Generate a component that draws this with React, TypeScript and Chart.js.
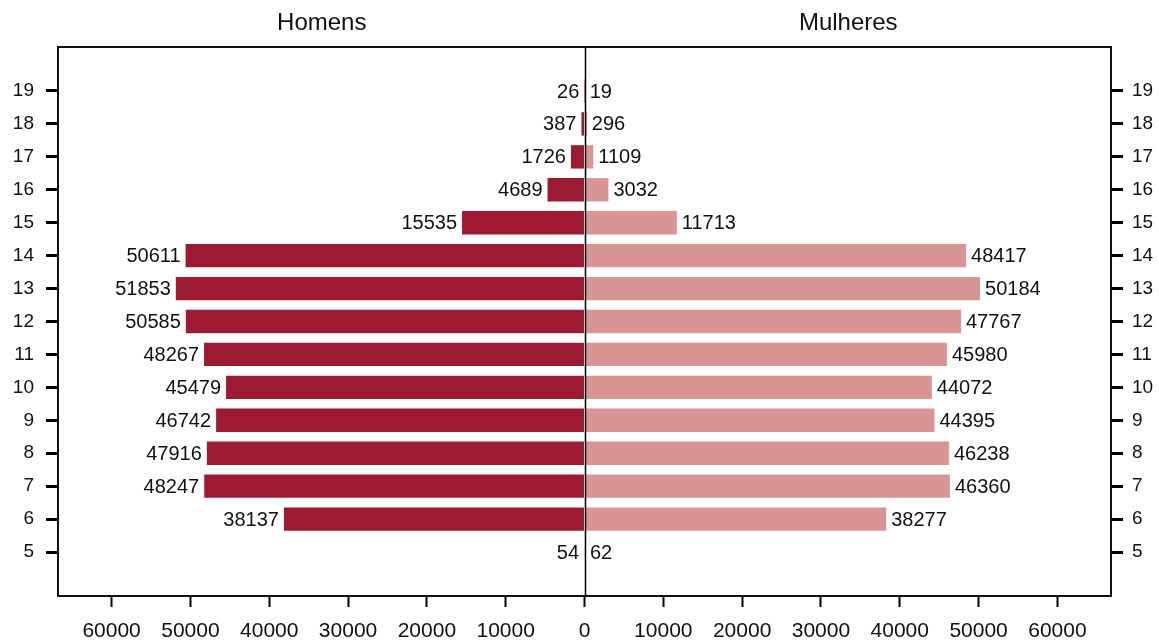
import React, { useEffect, useRef } from "react";
import { Chart, registerables } from "chart.js";

Chart.register(...registerables);

const ages = [19, 18, 17, 16, 15, 14, 13, 12, 11, 10, 9, 8, 7, 6, 5];
const homens = [26, 387, 1726, 4689, 15535, 50611, 51853, 50585, 48267, 45479, 46742, 47916, 48247, 38137, 54];
const mulheres = [19, 296, 1109, 3032, 11713, 48417, 50184, 47767, 45980, 44072, 44395, 46238, 46360, 38277, 62];
const xTicks = [-60000, -50000, -40000, -30000, -20000, -10000, 0, 10000, 20000, 30000, 40000, 50000, 60000];
const sideTitles = ["Homens", "Mulheres"];

const FONT = "'Liberation Sans', Arial, sans-serif";

export default function App() {
  const ref = useRef<HTMLCanvasElement | null>(null);

  useEffect(() => {
    if (!ref.current) return;
    const overlay = {
      id: "overlay",
      afterDatasetsDraw(chart: any) {
        const ctx = chart.ctx;
        const a = chart.chartArea;
        const xs = chart.scales.x;
        ctx.save();
        // value labels
        ctx.font = `20px ${FONT}`;
        ctx.fillStyle = "#111";
        ctx.textBaseline = "middle";
        const sets = [homens, mulheres];
        chart.data.datasets.forEach((_d: any, di: number) => {
          const meta = chart.getDatasetMeta(di);
          meta.data.forEach((el: any, i: number) => {
            const v = sets[di][i];
            if (di === 0) {
              ctx.textAlign = "right";
              ctx.fillText(String(v), el.x - 5, el.y + 1);
            } else {
              ctx.textAlign = "left";
              ctx.fillText(String(v), el.x + 5, el.y + 1);
            }
          });
        });
        // center line
        const x0 = Math.round(xs.getPixelForValue(0)) + 0.5;
        ctx.strokeStyle = "#000";
        ctx.lineWidth = 1.5;
        ctx.beginPath();
        ctx.moveTo(x0, a.top);
        ctx.lineTo(x0, a.bottom);
        ctx.stroke();
        // box
        ctx.lineWidth = 2;
        ctx.strokeStyle = "#111";
        ctx.strokeRect(a.left, a.top, a.right - a.left, a.bottom - a.top);
        // side titles
        ctx.font = `24px ${FONT}`;
        ctx.fillStyle = "#111";
        ctx.textAlign = "center";
        ctx.fillText(sideTitles[0], (a.left + x0) / 2, 23);
        ctx.fillText(sideTitles[1], (x0 + a.right) / 2, 23);
        ctx.restore();
      },
    };

    const yAxis = (pos: string, width: number, pad: number) => ({
      type: "linear",
      position: pos,
      min: 3.664,
      max: 20.336,
      offset: false,
      afterFit: (s: any) => {
        s.width = width;
      },
      afterBuildTicks: (s: any) => {
        s.ticks = ages.map((v) => ({ value: v }));
      },
      border: { display: false },
      grid: {
        offset: false,
        drawOnChartArea: false,
        drawTicks: true,
        tickLength: 12,
        tickWidth: 3,
        tickColor: "#000",
      },
      ticks: {
        padding: pad,
        color: "#111",
        font: { family: FONT, size: 19 },
        autoSkip: false,
        callback: (v: any) => String(v),
      },
    });

    const chart = new Chart(ref.current, {
      type: "bar",
      data: {
        datasets: [
          {
            label: sideTitles[0],
            data: ages.map((a, i) => ({ x: -homens[i], y: a })),
            backgroundColor: "#9e1932",
            grouped: false,
            barPercentage: 0.71,
            categoryPercentage: 1,
          } as any,
          {
            label: sideTitles[1],
            data: ages.map((a, i) => ({ x: mulheres[i], y: a })),
            backgroundColor: "#d99594",
            grouped: false,
            barPercentage: 0.71,
            categoryPercentage: 1,
          } as any,
        ],
      },
      options: {
        indexAxis: "y",
        animation: false,
        responsive: false,
        devicePixelRatio: 1,
        layout: { padding: { top: 47, left: 0, right: 0, bottom: 0 } },
        plugins: {
          legend: { display: false },
          tooltip: { enabled: false },
          title: { display: false },
        },
        scales: {
          x: {
            type: "linear",
            position: "bottom",
            min: -66800,
            max: 66800,
            offset: false,
            afterFit: (s: any) => {
              s.height = 44;
            },
            afterBuildTicks: (s: any) => {
              s.ticks = xTicks.map((v) => ({ value: v }));
            },
            border: { display: false },
            grid: {
              offset: false,
              drawOnChartArea: false,
              drawTicks: true,
              tickLength: 11,
              tickWidth: 2,
              tickColor: "#000",
            },
            ticks: {
              padding: 12,
              color: "#111",
              font: { family: FONT, size: 21 },
              maxRotation: 0,
              autoSkip: false,
              callback: (v: any) => String(Math.abs(Number(v))),
            },
          },
          y: yAxis("left", 58, 12),
          y2: yAxis("right", 48, 9),
        },
      } as any,
      plugins: [overlay],
    });
    return () => chart.destroy();
  }, []);

  return (
    <div style={{ position: "fixed", left: 0, top: 0, width: 1159, height: 640, background: "#fff" }}>
      <canvas ref={ref} width={1159} height={640} style={{ width: 1159, height: 640, display: "block" }} />
    </div>
  );
}
